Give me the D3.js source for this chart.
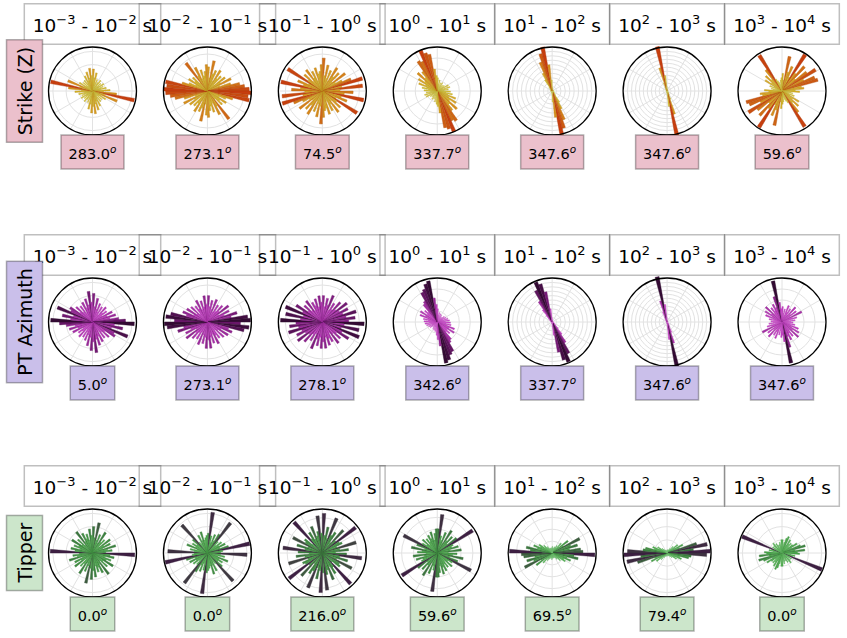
<!DOCTYPE html>
<html>
<head>
<meta charset="utf-8">
<script src="https://cdn.jsdelivr.net/npm/d3@7"></script>
<style>
  body { margin: 0; background: #fff; }
  text { font-family: "DejaVu Sans", sans-serif; white-space: pre; }
</style>
</head>
<body>
<script>
// period bands, one column each: 10^lo - 10^(lo+1) s
const periodLo = [-3, -2, -1, 0, 1, 2, 3];
const rowNames = ["Strike (Z)", "PT Azimuth", "Tipper"];

// rose histograms, 5 degree bins from 0 to 175 (axial data, mirrored at +180)
// values are a fraction of each panel's radial limit
const strikeRose = [
  [0.5,0.3,0.42,0.2,0.28,0.12,0.22,0.3,0.15,0.25,0.18,0.3,0.14,0.26,0.2,0.32,0.18,0.4,0.25,0.55,0.97,0.3,0.6,0.22,0.35,0.18,0.28,0.15,0.3,0.2,0.38,0.25,0.45,0.3,0.52,0.35],
  [0.55,0.3,0.7,0.4,0.5,0.25,0.55,0.35,0.45,0.2,0.5,0.35,0.6,0.3,0.55,0.75,0.85,0.95,1.0,0.93,0.97,0.6,0.45,0.3,0.5,0.35,0.45,0.25,0.8,0.4,0.6,0.3,0.5,0.35,0.45,0.6],
  [0.75,0.35,0.6,0.3,0.5,0.25,0.62,0.4,0.55,0.3,0.65,0.35,0.5,0.7,0.95,0.45,0.92,0.4,0.7,0.5,0.96,0.45,0.6,0.35,0.93,0.4,0.55,0.3,0.6,0.35,0.5,0.25,0.55,0.4,0.45,0.6],
  [0.3,0.15,0.25,0.12,0.2,0.1,0.22,0.15,0.18,0.1,0.2,0.15,0.28,0.12,0.3,0.18,0.25,0.15,0.3,0.2,0.35,0.25,0.45,0.3,0.5,0.35,0.6,0.4,0.55,0.8,0.75,1.0,0.9,0.85,0.5,0.35],
  [0.08,0.05,0.04,0.03,0.03,0.02,0.03,0.02,0.02,0.03,0.02,0.02,0.03,0.02,0.03,0.03,0.02,0.03,0.04,0.03,0.03,0.04,0.05,0.04,0.06,0.05,0.07,0.08,0.12,0.3,0.45,0.7,0.88,1.02,0.6,0.25],
  [0.05,0.03,0.02,0.02,0.02,0.02,0.02,0.02,0.02,0.02,0.02,0.02,0.02,0.02,0.02,0.02,0.02,0.02,0.02,0.02,0.02,0.02,0.02,0.03,0.02,0.03,0.03,0.04,0.05,0.06,0.1,0.2,0.55,1.03,0.35,0.1],
  [0.4,0.25,0.8,0.45,0.6,0.35,0.98,0.5,0.75,0.4,0.7,0.9,0.55,0.8,0.85,0.45,0.5,0.3,0.4,0.2,0.25,0.15,0.3,0.2,0.45,0.3,0.5,0.35,0.6,0.96,0.3,0.25,0.2,0.15,0.25,0.3]
];
const ptRose = [
  [0.65,0.35,0.55,0.3,0.45,0.25,0.4,0.2,0.45,0.3,0.4,0.25,0.5,0.35,0.55,0.4,0.6,0.75,0.95,0.5,0.7,0.45,0.86,0.55,0.6,0.35,0.5,0.3,0.45,0.25,0.5,0.35,0.55,0.4,0.7,0.45],
  [0.6,0.35,0.5,0.3,0.55,0.25,0.45,0.3,0.5,0.35,0.6,0.3,0.55,0.4,0.7,0.55,0.92,0.98,0.75,0.95,0.85,0.5,0.6,0.35,0.55,0.3,0.5,0.25,0.45,0.35,0.55,0.3,0.5,0.35,0.6,0.4],
  [0.6,0.35,0.55,0.4,0.65,0.3,0.5,0.35,0.6,0.4,0.7,0.45,0.65,0.5,0.8,0.55,0.75,0.6,0.95,0.5,0.85,0.45,0.9,0.5,0.7,0.4,0.55,0.35,0.6,0.3,0.5,0.4,0.55,0.35,0.6,0.45],
  [0.3,0.15,0.22,0.12,0.2,0.1,0.18,0.12,0.15,0.1,0.2,0.14,0.22,0.12,0.25,0.15,0.28,0.18,0.3,0.2,0.32,0.22,0.42,0.3,0.45,0.28,0.38,0.3,0.5,0.55,0.75,0.8,0.9,0.95,0.55,0.4],
  [0.04,0.03,0.03,0.02,0.02,0.02,0.02,0.02,0.02,0.02,0.02,0.02,0.02,0.02,0.02,0.02,0.02,0.02,0.02,0.03,0.03,0.03,0.04,0.05,0.06,0.08,0.12,0.2,0.35,0.55,0.8,0.98,0.9,0.7,0.3,0.1],
  [0.03,0.02,0.02,0.02,0.02,0.02,0.02,0.02,0.02,0.02,0.02,0.02,0.02,0.02,0.02,0.02,0.02,0.02,0.02,0.02,0.02,0.02,0.02,0.02,0.02,0.03,0.03,0.04,0.05,0.08,0.12,0.25,0.5,1.05,0.4,0.1],
  [0.35,0.2,0.3,0.15,0.4,0.25,0.35,0.2,0.45,0.25,0.4,0.2,0.5,0.25,0.35,0.15,0.3,0.2,0.25,0.15,0.3,0.2,0.4,0.25,0.45,0.3,0.5,0.25,0.4,0.3,0.45,0.35,0.6,0.95,0.45,0.3]
];
const tipperRose = [
  [0.6,0.35,0.7,0.3,0.45,0.25,0.55,0.3,0.4,0.2,0.5,0.3,0.45,0.25,0.55,0.35,0.45,0.3,0.96,0.4,0.5,0.3,0.45,0.35,0.55,0.3,0.45,0.25,0.6,0.3,0.5,0.35,0.45,0.3,0.55,0.4],
  [0.45,0.93,0.4,0.25,0.45,0.3,0.5,0.86,0.35,0.25,0.4,0.3,0.45,0.3,0.5,0.98,0.35,0.3,0.9,0.3,0.4,0.25,0.5,0.3,0.4,0.3,0.45,0.86,0.3,0.25,0.45,0.3,0.5,0.3,0.35,0.4],
  [0.9,0.4,0.6,0.35,0.85,0.45,0.55,0.3,0.7,0.4,0.95,0.45,0.5,0.35,0.8,0.4,0.6,0.3,0.55,0.9,0.4,0.6,0.35,0.75,0.45,0.5,0.3,0.95,0.4,0.55,0.35,0.65,0.4,0.5,0.85,0.45],
  [0.55,0.88,0.4,0.3,0.5,0.25,0.6,0.35,0.5,0.3,0.55,0.95,0.4,0.35,0.5,0.3,0.55,0.25,0.45,0.35,0.6,0.3,0.5,0.86,0.4,0.3,0.45,0.25,0.4,0.3,0.45,0.35,0.5,0.3,0.45,0.55],
  [0.15,0.1,0.12,0.08,0.15,0.12,0.2,0.15,0.3,0.2,0.45,0.3,0.7,0.45,0.6,0.4,0.65,0.7,0.97,0.5,0.6,0.35,0.45,0.3,0.35,0.2,0.25,0.15,0.18,0.1,0.12,0.08,0.12,0.1,0.12,0.08],
  [0.08,0.05,0.06,0.04,0.08,0.06,0.12,0.08,0.2,0.12,0.3,0.2,0.4,0.3,0.7,0.93,0.6,0.98,0.9,0.55,0.5,0.3,0.35,0.2,0.25,0.12,0.15,0.08,0.1,0.06,0.07,0.05,0.05,0.04,0.05,0.06],
  [0.3,0.15,0.25,0.35,0.4,0.2,0.35,0.25,0.3,0.2,0.3,0.4,0.25,0.45,0.55,0.3,0.52,0.35,0.4,0.2,0.3,0.25,0.98,0.2,0.25,0.15,0.25,0.3,0.15,0.25,0.2,0.12,0.2,0.25,0.15,0.3]
];

// radial tick step of each panel (same units as the rose values)
const strikeRings = [0.3, 0.42, 0.42, 0.25, 0.1, 0.09, 1];
const ptRings = [0.3, 0.42, 0.42, 0.25, 0.1, 0.09, 0.25];
const tipperRings = [0.3, 0.3, 0.4, 0.27, 0.27, 0.3, 0.3];

// median direction printed under each rose
const strikeLabels = ["283.0", "273.1", "74.5", "337.7", "347.6", "347.6", "59.6"];
const ptLabels = ["5.0", "273.1", "278.1", "342.6", "337.7", "347.6", "347.6"];
const tipperLabels = ["0.0", "0.0", "216.0", "59.6", "69.5", "79.4", "0.0"];

const W = 847, H = 638, R = 44, binDeg = 5;

const rows = [
  { name: rowNames[0], rose: strikeRose, rings: strikeRings, labels: strikeLabels,
    box: "#ebc0cc",
    cmap: d3.scaleLinear().domain([0, 0.35, 0.65, 1]).range(["#e4e67a", "#d8bd2a", "#d6861a", "#c63e0e"]) },
  { name: rowNames[1], rose: ptRose, rings: ptRings, labels: ptLabels,
    box: "#cabfea",
    cmap: d3.scaleLinear().domain([0, 0.4, 0.7, 1]).range(["#ee80ee", "#c63cc6", "#7a1a7a", "#330a33"]) },
  { name: rowNames[2], rose: tipperRose, rings: tipperRings, labels: tipperLabels,
    box: "#cce6cb",
    cmap: d3.scaleLinear().domain([0, 0.35, 0.6, 0.8, 1]).range(["#8edc8e", "#4fb24f", "#3a7c3e", "#3f4a40", "#3d1f42"]) }
];

const svg = d3.select("body").append("svg").attr("width", W).attr("height", H);

const xScale = d3.scalePoint().domain(d3.range(periodLo.length)).range([92.5, 782]);
const yScale = d3.scalePoint().domain(d3.range(rows.length)).range([91, 553]);
const rScale = d3.scaleLinear().domain([0, 1]).range([0, R]);
const rad = d => d * Math.PI / 180;

// text + box helper: draws rect behind a text group, centered at (cx, cy)
function boxed(parent, cx, cy, pad, fill, stroke, build) {
  const g = parent.append("g");
  const rect = g.append("rect");
  const t = g.append("text");
  build(t);
  const bb = t.node().getBBox();
  rect.attr("x", bb.x - pad).attr("y", bb.y - pad)
    .attr("width", bb.width + 2 * pad).attr("height", bb.height + 2 * pad)
    .attr("fill", fill).attr("stroke", stroke).attr("stroke-width", 1.5);
  g.attr("transform", `translate(${cx - (bb.x + bb.width / 2)},${cy - (bb.y + bb.height / 2)})`);
  return g;
}

rows.forEach((row, ri) => {
  const cy = yScale(ri);

  row.rose.forEach((vals, ci) => {
    const cx = xScale(ci);
    const g = svg.append("g").attr("transform", `translate(${cx},${cy})`);

    // grid
    const step = row.rings[ci];
    g.selectAll(".ring").data(d3.range(step, 0.999, step)).join("circle")
      .attr("r", d => rScale(d)).attr("fill", "none")
      .attr("stroke", "#e2e2e2").attr("stroke-width", 1);
    g.selectAll(".spoke").data(d3.range(0, 360, 30)).join("line")
      .attr("x2", d => R * Math.sin(rad(d))).attr("y2", d => -R * Math.cos(rad(d)))
      .attr("stroke", "#e2e2e2").attr("stroke-width", 1);

    // bars, both halves of the axial histogram
    const vmax = d3.max(vals);
    const bins = [];
    [0, 180].forEach(off => vals.forEach((v, i) => bins.push({ a: off + i * binDeg, v })));
    const arc = d3.arc().innerRadius(0)
      .outerRadius(d => rScale(d.v))
      .startAngle(d => rad(d.a)).endAngle(d => rad(d.a + binDeg));
    g.selectAll(".bar").data(bins).join("path")
      .attr("d", arc)
      .attr("fill", d => row.cmap(d.v / vmax))
      .attr("stroke", d => d3.color(row.cmap(d.v / vmax)).darker(0.4))
      .attr("stroke-width", 0.4);

    g.append("circle").attr("r", R).attr("fill", "none")
      .attr("stroke", "#000").attr("stroke-width", 1.3);

    // period title
    const lo = periodLo[ci];
    const fmt = n => (n < 0 ? "\u2212" : "") + Math.abs(n);
    boxed(svg, cx, cy - 67, 8.5, "none", "rgba(0,0,0,0.25)", t => {
      t.attr("font-size", 18.5).attr("fill", "#000");
      t.append("tspan").text("10");
      t.append("tspan").attr("font-size", 13).attr("dy", -7.5).text(fmt(lo));
      t.append("tspan").attr("dy", 7.5).text(" - 10");
      t.append("tspan").attr("font-size", 13).attr("dy", -7.5).text(fmt(lo + 1));
      t.append("tspan").attr("dy", 7.5).text(" s");
    });

    // direction label
    boxed(svg, cx, cy + 61, 7.5, row.box, "rgba(0,0,0,0.3)", t => {
      t.attr("font-size", 14.5).attr("fill", "#000");
      t.append("tspan").text(row.labels[ci]);
      t.append("tspan").attr("font-size", 10.5).attr("font-style", "italic").attr("dy", -6).text("o");
    });
  });

  // row label
  const lg = svg.append("g").attr("transform", `translate(24.5,${cy}) rotate(-90)`);
  boxed(lg, 0, 0, 7, row.box, "rgba(0,0,0,0.3)", t => {
    t.attr("font-size", 19).attr("fill", "#000").text(row.name);
  });
});
</script>
</body>
</html>
